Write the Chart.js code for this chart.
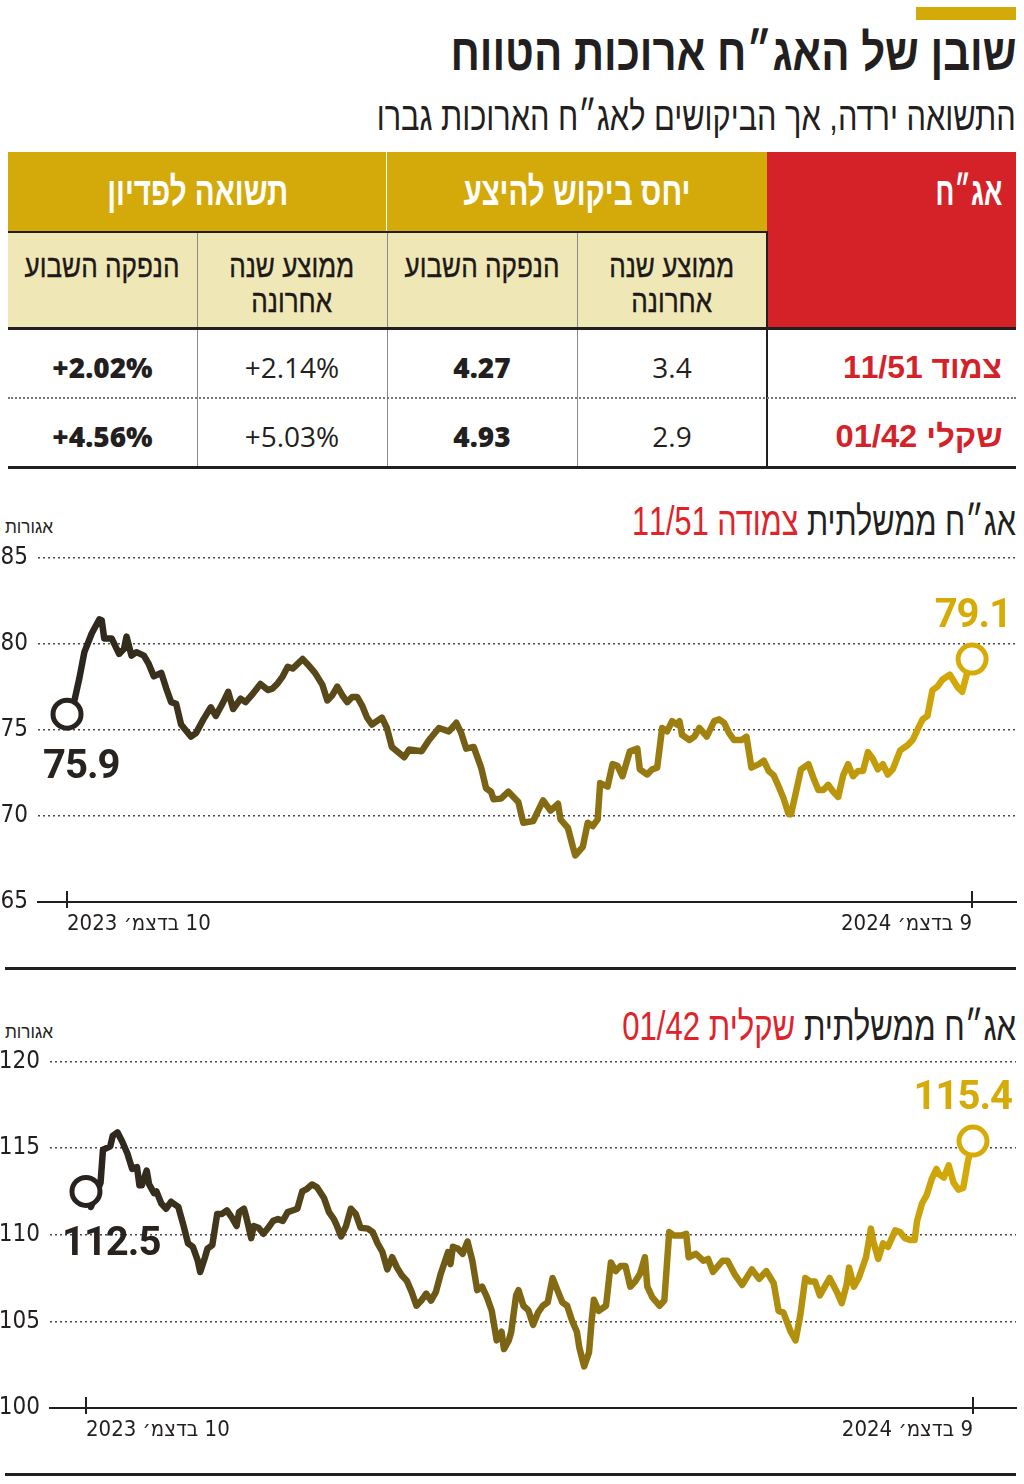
<!DOCTYPE html>
<html lang="he" dir="rtl">
<head>
<meta charset="utf-8">
<title>שובן של האג״ח ארוכות הטווח</title>
<script src="https://cdn.jsdelivr.net/npm/chart.js@4.4.1/dist/chart.umd.min.js"></script>
<style>
  html, body { margin:0; padding:0; background:#fff; }
  body { position:relative; width:1024px; height:1484px; overflow:hidden;
         font-family:'Liberation Sans', Arial, sans-serif; color:#231f20; }
  .abs { position:absolute; }
  .fit { display:inline-block; white-space:nowrap; }
  .fr { transform-origin: 100% 50%; }
  .fc { transform-origin: 50% 50%; }
  .txt-r { position:absolute; text-align:right; white-space:nowrap; }
  .num { font-family:'Open Sans', sans-serif; font-size:28px; line-height:28px; direction:ltr; unicode-bidi:isolate; }
  .chartbox { position:absolute; left:0; width:1024px; }
</style>
</head>
<body>
<div class="abs" style="left:916px;top:7px;width:100px;height:13px;background:#d4aa0b"></div>
<div class="txt-r" style="right:8px;top:27px;font-size:51px;line-height:51px;font-weight:bold;"><span class="fit fr" data-w="566">שובן של האג״ח ארוכות הטווח</span></div>
<div class="txt-r" style="right:8px;top:96px;font-size:40px;line-height:40px;"><span class="fit fr" data-w="639">התשואה ירדה, אך הביקושים לאג״ח הארוכות גברו</span></div>

<div id="table"></div>

<div class="txt-r" style="right:8px;top:501px;font-size:40px;line-height:40px;"><span class="fit fr" data-w="384">אג״ח ממשלתית <span style="color:#e0232b">צמודה 11/51</span></span></div>
<div class="abs" style="left:5px;top:518px;font-size:18px;line-height:18px;white-space:nowrap;"><span class="fit" style="transform-origin:0 50%" data-w="48">אגורות</span></div>
<div class="chartbox" style="top:533px;height:427px;"><canvas id="c1"></canvas></div>
<div class="abs" style="left:5px;top:967px;width:1011px;height:3px;background:#231f20"></div>

<div class="txt-r" style="right:8px;top:1006px;font-size:40px;line-height:40px;"><span class="fit fr" data-w="394">אג״ח ממשלתית <span style="color:#e0232b">שקלית 01/42</span></span></div>
<div class="abs" style="left:5px;top:1023px;font-size:18px;line-height:18px;white-space:nowrap;"><span class="fit" style="transform-origin:0 50%" data-w="48">אגורות</span></div>
<div class="chartbox" style="top:1037px;height:428px;"><canvas id="c2"></canvas></div>
<div class="abs" style="left:5px;top:1473px;width:1011px;height:3px;background:#231f20"></div>

<script>
// ---------------- DATA ----------------
// Table
const groupHeaders   = ['יחס ביקוש להיצע', 'תשואה לפדיון'];
const subHeaders     = ['ממוצע שנה<br>אחרונה', 'הנפקה השבוע', 'ממוצע שנה<br>אחרונה', 'הנפקה השבוע'];
const bondNames      = ['צמוד 11/51', 'שקלי 01/42'];
const demandAvgYear  = ['3.4', '2.9'];
const demandThisWeek = ['4.27', '4.93'];
const yieldAvgYear   = ['+2.14%', '+5.03%'];
const yieldThisWeek  = ['+2.02%', '+4.56%'];

// X axis: days since 10 Dec 2023
const xTickDays    = [0, 365];
const xTickLabels1 = ['10 בדצמ׳ 2023', '9 בדצמ׳ 2024'];
const xTickLabels2 = ['10 בדצמ׳ 2023', '9 בדצמ׳ 2024'];

// Chart 1 — צמודה 11/51 (agorot)
const yTicks1 = [65, 70, 75, 80, 85];
const days1 = [
  0,3,5,7,10,13,14,15,18,21,
  23,24,26,28,31,33,35,38,40,42,
  44,46,50,52,55,58,60,63,65,67,
  70,72,75,78,81,83,85,87,89,91,
  95,97,100,103,105,107,109,111,113,115,
  117,119,121,123,127,129,131,136,138,143,
  146,150,154,157,159,161,164,167,169,171,
  172,175,178,182,184,188,192,195,198,199,
  202,204,205,208,210,212,214,215,218,220,
  222,224,227,230,231,234,236,238,240,242,
  244,246,247,248,251,253,255,258,261,263,
  265,267,269,272,274,276,279,281,283,285,
  287,289,291,292,294,296,299,301,303,305,
  307,309,311,313,315,317,319,321,323,325,
  327,329,331,333,336,339,341,343,345,347,
  349,351,353,356,359,361,363,365
];
const prices1 = [
  75.9,76.7,78.0,79.5,80.6,81.4,81.35,80.3,80.3,79.4,
  79.7,80.4,79.3,79.5,79.3,78.8,78.1,78.3,77.4,76.6,
  76.5,75.3,74.6,74.8,75.6,76.3,75.8,76.6,77.2,76.2,
  76.8,76.6,77.1,77.65,77.3,77.4,77.7,78.1,78.65,78.55,
  79.1,78.8,78.3,77.6,76.7,77.0,77.5,77.0,76.6,76.9,
  76.9,76.4,75.7,75.3,75.7,75.1,74.0,73.4,73.85,73.75,
  74.4,75.1,74.9,75.4,74.8,73.9,74.0,72.8,71.6,71.4,
  70.96,71.0,71.4,70.8,69.6,69.7,70.9,70.3,70.7,69.8,
  69.3,68.2,67.7,68.2,69.6,69.4,69.8,71.9,71.7,73.0,
  72.9,72.3,73.75,73.9,72.7,72.4,72.7,72.8,75.1,74.9,
  75.5,75.3,75.5,74.7,74.4,74.6,75.1,74.6,75.5,75.6,
  75.4,74.8,74.4,74.4,74.6,72.8,73.0,73.2,72.6,72.35,
  71.7,71.0,70.1,70.1,71.4,72.7,73.0,72.2,71.5,71.5,
  71.8,71.4,71.1,72.35,73.0,72.3,72.6,72.6,73.7,73.3,
  72.7,73.0,72.4,72.7,73.8,74.1,74.4,75.0,75.6,75.8,
  77.3,77.5,77.9,78.2,77.5,77.2,78.3,79.1
];

// Chart 2 — שקלית 01/42 (agorot)
const yTicks2 = [100, 105, 110, 115, 120];
const days2 = [
  0,2,6,7,10,11,13,15,17,19,
  21,22,23,25,26,28,29,31,33,35,
  38,40,42,44,46,47,49,50,52,54,
  56,58,60,62,63,65,66,68,69,71,
  73,75,77,79,81,83,85,87,89,91,
  93,95,98,100,102,103,105,107,109,111,
  113,116,118,120,122,124,126,128,130,132,
  134,136,138,140,142,144,146,149,150,151,
  153,155,157,159,161,163,165,167,169,171,
  172,174,175,177,178,180,182,184,186,188,
  190,192,194,196,198,200,202,203,205,207,
  208,209,211,214,216,218,220,222,224,226,
  228,230,231,233,236,238,240,242,245,247,
  248,251,254,256,258,262,264,267,270,274,
  277,280,283,285,287,290,292,294,296,298,
  300,302,304,306,309,311,313,314,316,318,
  321,323,324,326,328,330,333,335,337,339,
  341,342,344,346,348,350,351,353,355,357,
  359,361,363,365
];
const prices2 = [
  112.5,111.6,113.0,114.9,115.1,115.7,115.9,115.35,114.7,113.8,
  113.9,112.85,112.85,113.7,112.9,112.4,112.5,111.8,111.5,111.9,
  111.6,110.6,109.5,109.3,108.5,107.85,108.7,109.2,109.4,111.2,
  111.2,111.4,111.0,110.5,111.3,111.5,111.0,109.8,110.5,110.4,
  110.05,110.4,110.8,110.9,110.8,111.3,111.4,111.5,112.5,112.65,
  112.9,112.75,112.1,111.3,110.9,110.6,109.9,110.5,111.5,111.2,
  110.4,110.35,110.15,109.5,109.0,108.0,108.7,108.1,107.65,107.35,
  106.7,105.9,106.2,106.6,106.2,106.7,107.75,109.0,108.3,109.3,
  109.2,108.9,109.6,108.5,106.8,107.0,106.4,105.6,103.9,104.4,
  103.4,103.9,104.4,106.5,106.8,105.9,105.65,104.8,105.5,105.9,
  106.1,107.5,106.8,106.1,105.9,105.05,104.4,103.5,102.4,103.2,
  104.9,106.25,105.6,105.9,108.4,107.9,108.2,108.2,107.0,107.3,
  107.75,108.7,107.0,106.4,105.9,106.2,110.15,109.95,109.95,110.05,
  108.7,108.9,108.5,108.6,107.85,108.5,108.5,107.7,107.1,108.0,
  107.45,107.9,107.2,105.6,105.5,104.4,103.9,105.4,107.5,107.3,
  107.3,106.5,107.0,107.5,106.7,106.05,107.1,108.1,107.0,107.5,
  108.7,110.35,109.6,108.6,109.5,109.3,110.25,110.15,109.8,109.7,
  109.7,110.8,111.8,112.3,113.2,113.8,113.5,113.3,114.0,113.0,
  112.6,112.7,114.3,115.4
];

// ---------------- TABLE ----------------
const GOLD = '#d4aa0b', RED = '#d52229', CREAM = '#f0e7b7', INK = '#231f20';
(function buildTable() {
  const root = document.getElementById('table');
  const add = (html, style) => { const d = document.createElement('div'); d.className = 'abs'; d.setAttribute('style', style); d.innerHTML = html; root.appendChild(d); return d; };
  // backgrounds
  add('', `left:767px;top:152px;width:249px;height:176px;background:${RED}`);
  add('', `left:387px;top:152px;width:380px;height:79px;background:${GOLD}`);
  add('', `left:8px;top:152px;width:378px;height:79px;background:${GOLD}`);
  add('', `left:8px;top:233px;width:758px;height:95px;background:${CREAM}`);
  // lines
  add('', `left:8px;top:231px;width:759px;height:2px;background:${INK}`);
  add('', `left:766px;top:231px;width:2px;height:237px;background:${INK}`);
  [577, 387, 197].forEach(x => add('', `left:${x}px;top:233px;width:1px;height:235px;background:#8a8a8a`));
  add('', `left:8px;top:327px;width:1008px;height:3px;background:${INK}`);
  add('', `left:8px;top:397px;width:1008px;height:0;border-top:2px dotted #777`);
  add('', `left:8px;top:466px;width:1008px;height:3px;background:${INK}`);
  // header texts
  add('<span class="fit fr" data-w="67">אג״ח</span>',
      `right:${1024-1002}px;top:171px;color:#fff;font-weight:bold;font-size:40px;line-height:40px;white-space:nowrap`);
  const gcols = [{x:387, w:380, tw:227}, {x:8, w:379, tw:181}];
  groupHeaders.forEach((t, i) => add(`<span class="fit fc" data-w="${gcols[i].tw}">${t}</span>`,
      `left:${gcols[i].x}px;width:${gcols[i].w}px;top:171px;text-align:center;color:#fff;font-weight:bold;font-size:40px;line-height:40px;white-space:nowrap`));
  const cols = [{x:577, w:190}, {x:387, w:190}, {x:197, w:190}, {x:8, w:189}];
  const subW = [125, 155, 125, 155];
  subHeaders.forEach((t, i) => add(`<span class="fit fc" data-w="${subW[i]}">${t}</span>`,
      `left:${cols[i].x}px;width:${cols[i].w}px;top:249px;text-align:center;color:#1c1918;font-size:32px;line-height:35px;white-space:nowrap;-webkit-text-stroke:0.4px #1c1918`));
  // data rows
  const rowTops = [353, 422];
  const nameW = [159, 167];
  const colsData = [demandAvgYear, demandThisWeek, yieldAvgYear, yieldThisWeek];
  const bold = [false, true, false, true];
  bondNames.forEach((n, r) => {
    add(`<span class="fit fr" data-w="${nameW[r]}">${n}</span>`,
      `right:${1024-1002}px;top:${rowTops[r]-1}px;color:${RED};font-weight:bold;font-size:31px;line-height:31px;white-space:nowrap`);
    colsData.forEach((arr, c) => {
      add(`<span class="num" style="font-weight:${bold[c] ? 800 : 400}">${arr[r]}</span>`,
        `left:${cols[c].x}px;width:${cols[c].w}px;top:${rowTops[r]}px;text-align:center;color:${INK};`);
    });
  });
})();

// fit Hebrew condensed texts to reference widths
document.querySelectorAll('.fit[data-w]').forEach(el => {
  const w = el.getBoundingClientRect().width;
  if (w > 0) el.style.transform = `scaleX(${(parseFloat(el.dataset.w) / w).toFixed(4)})`;
});

// ---------------- CHARTS ----------------
const LINE_DARK = '#28231f', LINE_GOLD = '#d6ab08';
const NARROW = "'Liberation Sans Narrow','DejaVu Sans Condensed','Liberation Sans',sans-serif";

const tickMarks = {
  id: 'tickMarks',
  afterDraw(chart) {
    const xs = chart.scales.x, y0 = chart.chartArea.bottom, ctx = chart.ctx;
    ctx.save();
    ctx.strokeStyle = INK; ctx.lineWidth = 2;
    xs.ticks.forEach(t => {
      const px = Math.round(xs.getPixelForValue(t.value));
      ctx.beginPath(); ctx.moveTo(px, y0 - 11); ctx.lineTo(px, y0 + 6); ctx.stroke();
    });
    ctx.restore();
  }
};
const endLabels = {
  id: 'endLabels',
  afterDatasetsDraw(chart) {
    const pts = chart.getDatasetMeta(0).data;
    const data = chart.data.datasets[0].data;
    const ctx = chart.ctx;
    const f = pts[0], l = pts[pts.length - 1];
    ctx.save();
    ctx.font = "bold 40px Roboto, 'Open Sans', sans-serif";
    try { ctx.letterSpacing = '-1px'; } catch (e) {}
    ctx.textBaseline = 'alphabetic';
    ctx.fillStyle = LINE_DARK; ctx.textAlign = 'left';
    ctx.fillText(data[0].y.toFixed(1), f.x - 24, f.y + 64);
    ctx.fillStyle = LINE_GOLD; ctx.textAlign = 'right';
    ctx.fillText(data[data.length - 1].y.toFixed(1), l.x + 39, l.y - 32);
    ctx.restore();
  }
};

function buildChart(id, days, vals, yTicks, xLabels, layout) {
  const yMin = yTicks[0], yMax = yTicks[yTicks.length - 1];
  const lastIdx = days.length - 1;
  return new Chart(document.getElementById(id), {
    type: 'line',
    data: {
      datasets: [{
        data: days.map((d, i) => ({ x: d, y: vals[i] })),
        borderWidth: 6.5,
        tension: 0,
        borderJoinStyle: 'round',
        borderCapStyle: 'round',
        fill: false,
        clip: false,
        borderColor: (c) => {
          const ch = c.chart;
          if (!ch.chartArea || !ch.scales.x) return LINE_DARK;
          const x0 = ch.scales.x.getPixelForValue(days[0]);
          const x1 = ch.scales.x.getPixelForValue(days[lastIdx]);
          const g = ch.ctx.createLinearGradient(x0, 0, x1, 0);
          g.addColorStop(0, LINE_DARK);
          g.addColorStop(1, LINE_GOLD);
          return g;
        },
        pointRadius: (c) => (c.dataIndex === 0 || c.dataIndex === lastIdx) ? 14 : 0,
        pointHoverRadius: (c) => (c.dataIndex === 0 || c.dataIndex === lastIdx) ? 14 : 0,
        pointBorderWidth: 5,
        pointBorderColor: (c) => c.dataIndex === 0 ? LINE_DARK : LINE_GOLD,
        pointBackgroundColor: '#ffffff'
      }]
    },
    options: {
      responsive: true,
      maintainAspectRatio: false,
      animation: false,
      devicePixelRatio: 1,
      events: [],
      layout: { autoPadding: false, padding: { left: 0, right: 8, top: 0, bottom: layout.padBottom } },
      plugins: { legend: { display: false }, tooltip: { enabled: false } },
      scales: {
        x: {
          type: 'linear',
          min: layout.xMin, max: layout.xMax,
          afterBuildTicks: (s) => { s.ticks = xTickDays.map(v => ({ value: v })); },
          afterFit: (s) => { s.height = 40; },
          ticks: {
            autoSkip: false, maxRotation: 0, minRotation: 0, align: 'inner', padding: 1,
            color: INK, font: { family: NARROW, size: 22 },
            callback: (v, i) => xLabels[i]
          },
          grid: { display: false },
          border: { display: true, color: INK, width: 2 }
        },
        y: {
          min: yMin, max: yMax,
          afterBuildTicks: (s) => { s.ticks = yTicks.map(v => ({ value: v })); },
          afterFit: (s) => { s.width = layout.yWidth; },
          ticks: { padding: 10, color: INK, font: { family: NARROW, size: 24 } },
          grid: {
            drawTicks: false,
            lineWidth: 1.5,
            color: (c) => (c.tick && c.tick.value === yMin) ? 'rgba(0,0,0,0)' : '#4a4a4a'
          },
          border: { display: false, dash: [2, 3] }
        }
      }
    },
    plugins: [tickMarks, endLabels]
  });
}

buildChart('c1', days1, prices1, yTicks1, xTickLabels1, { yWidth: 38, xMin: -11.7, xMax: 382.7, padBottom: 18 });
buildChart('c2', days2, prices2, yTicks2, xTickLabels2, { yWidth: 50, xMin: -14.8, xMax: 382.7, padBottom: 17 });
</script>
</body>
</html>
